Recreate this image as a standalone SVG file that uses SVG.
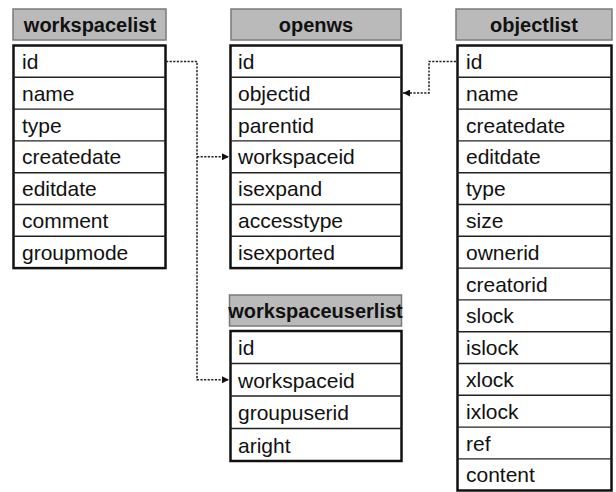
<svg xmlns="http://www.w3.org/2000/svg" width="616" height="492" viewBox="0 0 616 492">
<style>
.hdr{fill:#bababa;stroke:#7a7a7a;stroke-width:1.5}
.ht{font-family:"Liberation Sans",Arial,sans-serif;font-weight:bold;font-size:20px;fill:#111;text-anchor:middle}
.tb{fill:#fff;stroke:#111;stroke-width:2.5}
.sep{stroke:#222;stroke-width:1.4}
.rt{font-family:"Liberation Sans",Arial,sans-serif;font-size:21px;fill:#111}
.cn{fill:none;stroke:#222;stroke-width:1.5;stroke-dasharray:2.2 1.4}
</style>
<defs>
<marker id="ar" viewBox="0 0 8 8" refX="8" refY="4" markerWidth="7" markerHeight="7" markerUnits="userSpaceOnUse" orient="auto">
<path d="M0,0 L8,4 L0,8 z" fill="#111"/>
</marker>
</defs>
<rect width="616" height="492" fill="#fff"/>

<g id="workspacelist">
<rect class="hdr" x="13" y="9" width="153" height="31"/>
<text class="ht" x="90" y="32">workspacelist</text>
<rect class="tb" x="13.5" y="45.5" width="152" height="222.6"/>
<line class="sep" x1="13.5" y1="77.3" x2="165.5" y2="77.3"/>
<line class="sep" x1="13.5" y1="109.1" x2="165.5" y2="109.1"/>
<line class="sep" x1="13.5" y1="140.9" x2="165.5" y2="140.9"/>
<line class="sep" x1="13.5" y1="172.7" x2="165.5" y2="172.7"/>
<line class="sep" x1="13.5" y1="204.5" x2="165.5" y2="204.5"/>
<line class="sep" x1="13.5" y1="236.3" x2="165.5" y2="236.3"/>
<text class="rt" x="22" y="69">id</text>
<text class="rt" x="22" y="100.8">name</text>
<text class="rt" x="22" y="132.6">type</text>
<text class="rt" x="22" y="164.4">createdate</text>
<text class="rt" x="22" y="196.2">editdate</text>
<text class="rt" x="22" y="228">comment</text>
<text class="rt" x="22" y="259.8">groupmode</text>
</g>

<g id="openws">
<rect class="hdr" x="231" y="9" width="170" height="31"/>
<text class="ht" x="316" y="32">openws</text>
<rect class="tb" x="230.5" y="45.5" width="171" height="222.6"/>
<line class="sep" x1="230.5" y1="77.3" x2="401.5" y2="77.3"/>
<line class="sep" x1="230.5" y1="109.1" x2="401.5" y2="109.1"/>
<line class="sep" x1="230.5" y1="140.9" x2="401.5" y2="140.9"/>
<line class="sep" x1="230.5" y1="172.7" x2="401.5" y2="172.7"/>
<line class="sep" x1="230.5" y1="204.5" x2="401.5" y2="204.5"/>
<line class="sep" x1="230.5" y1="236.3" x2="401.5" y2="236.3"/>
<text class="rt" x="238" y="69">id</text>
<text class="rt" x="238" y="100.8">objectid</text>
<text class="rt" x="238" y="132.6">parentid</text>
<text class="rt" x="238" y="164.4">workspaceid</text>
<text class="rt" x="238" y="196.2">isexpand</text>
<text class="rt" x="238" y="228">accesstype</text>
<text class="rt" x="238" y="259.8">isexported</text>
</g>

<g id="workspaceuserlist">
<rect class="hdr" x="229.5" y="295" width="172" height="31"/>
<text class="ht" x="315.5" y="318">workspaceuserlist</text>
<rect class="tb" x="230.5" y="331" width="171" height="130"/>
<line class="sep" x1="230.5" y1="363.5" x2="401.5" y2="363.5"/>
<line class="sep" x1="230.5" y1="396" x2="401.5" y2="396"/>
<line class="sep" x1="230.5" y1="428.5" x2="401.5" y2="428.5"/>
<text class="rt" x="238" y="355">id</text>
<text class="rt" x="238" y="387.5">workspaceid</text>
<text class="rt" x="238" y="420">groupuserid</text>
<text class="rt" x="238" y="452.5">aright</text>
</g>

<g id="objectlist">
<rect class="hdr" x="456" y="9" width="156" height="31"/>
<text class="ht" x="534" y="32">objectlist</text>
<rect class="tb" x="457.5" y="45.5" width="154" height="445"/>
<line class="sep" x1="457.5" y1="77.3" x2="611.5" y2="77.3"/>
<line class="sep" x1="457.5" y1="109.1" x2="611.5" y2="109.1"/>
<line class="sep" x1="457.5" y1="140.9" x2="611.5" y2="140.9"/>
<line class="sep" x1="457.5" y1="172.7" x2="611.5" y2="172.7"/>
<line class="sep" x1="457.5" y1="204.5" x2="611.5" y2="204.5"/>
<line class="sep" x1="457.5" y1="236.3" x2="611.5" y2="236.3"/>
<line class="sep" x1="457.5" y1="268.1" x2="611.5" y2="268.1"/>
<line class="sep" x1="457.5" y1="299.9" x2="611.5" y2="299.9"/>
<line class="sep" x1="457.5" y1="331.7" x2="611.5" y2="331.7"/>
<line class="sep" x1="457.5" y1="363.5" x2="611.5" y2="363.5"/>
<line class="sep" x1="457.5" y1="395.3" x2="611.5" y2="395.3"/>
<line class="sep" x1="457.5" y1="427.1" x2="611.5" y2="427.1"/>
<line class="sep" x1="457.5" y1="458.9" x2="611.5" y2="458.9"/>
<text class="rt" x="466" y="69">id</text>
<text class="rt" x="466" y="100.8">name</text>
<text class="rt" x="466" y="132.6">createdate</text>
<text class="rt" x="466" y="164.4">editdate</text>
<text class="rt" x="466" y="196.2">type</text>
<text class="rt" x="466" y="228">size</text>
<text class="rt" x="466" y="259.8">ownerid</text>
<text class="rt" x="466" y="291.6">creatorid</text>
<text class="rt" x="466" y="323.4">slock</text>
<text class="rt" x="466" y="355.2">islock</text>
<text class="rt" x="466" y="387">xlock</text>
<text class="rt" x="466" y="418.8">ixlock</text>
<text class="rt" x="466" y="450.6">ref</text>
<text class="rt" x="466" y="482.4">content</text>
</g>

<g id="connectors">
<path class="cn" d="M166,61.4 H197 V379.75 H229" marker-end="url(#ar)"/>
<path class="cn" d="M197,156.8 H229" marker-end="url(#ar)"/>
<path class="cn" d="M456,61.4 H429 V93 H403" marker-end="url(#ar)"/>
</g>
</svg>
